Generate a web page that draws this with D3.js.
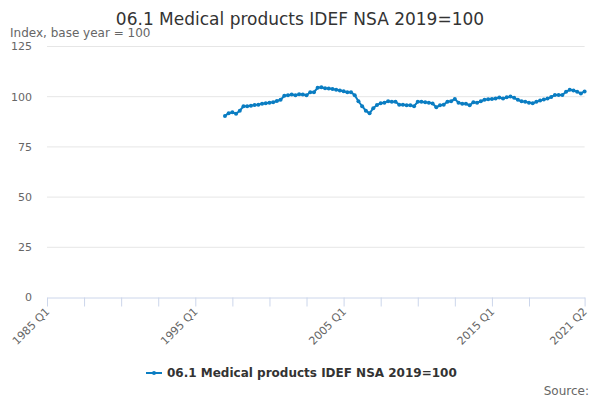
<!DOCTYPE html>
<html>
<head>
<meta charset="utf-8">
<script src="https://cdn.jsdelivr.net/npm/d3@7"></script>
<style>
  body { margin: 0; background: #fff; }
  svg { font-family: 'DejaVu Sans', sans-serif; display: block; }
</style>
</head>
<body>
<div class="container"></div>
<script>
// quarters counted from 1985 Q1 (index 0) to 2021 Q2 (index 145)
const firstQuarter = 48; // 1997 Q1
const values = [
  90.2, 91.5, 92, 91.2, 92.8, 95, 95, 95.3, 95.6, 95.8,
  96.2, 96.5, 96.8, 97, 97.6, 98.2, 100.2, 100.5, 100.8, 100.5,
  101, 100.8, 100.5, 102, 102, 104.2, 104.5, 104, 103.8, 103.6,
  103.2, 102.8, 102.5, 102, 102, 100.5, 97.5, 95, 92.8, 91.5,
  94, 95.6, 96.5, 96.8, 97.5, 97.2, 97.2, 95.8, 95.8, 95.5,
  95.5, 95, 97.2, 97.2, 97, 96.8, 96.4, 94.5, 95.5, 95.8,
  97.2, 97.5, 98.6, 96.8, 96.2, 96.2, 95.5, 97, 96.8, 97.5,
  98.2, 98.5, 98.6, 98.8, 99.4, 98.8, 99.5, 99.8, 99.2, 98.2,
  97.5, 97.2, 96.8, 96.5, 97.2, 97.8, 98.3, 98.8, 99.6, 100.6,
  100.6, 100.6, 102.2, 103.2, 102.8, 102.2, 101.4, 102.4
];
const xTickIndex = [0, 10, 20, 30, 40, 50, 60, 70, 80, 90, 100, 110, 120, 130, 145];
const xLabelIndex = [0, 40, 80, 120, 145];
const yTicks = [0, 25, 50, 75, 100, 125];

const title = '06.1 Medical products IDEF NSA 2019=100';

const quarterName = (i) => (1985 + Math.floor(i / 4)) + ' Q' + ((i % 4) + 1);

const w = 600;
const h = 400;
const plotLeft = 47;
const plotRight = 584.6;
const plotTop = 46;
const plotBottom = 297;

const svg = d3
  .select('.container')
  .append('svg')
  .attr('width', w)
  .attr('height', h);

svg
  .append('text')
  .attr('x', w / 2)
  .attr('y', 25)
  .attr('text-anchor', 'middle')
  .style('font-size', '17px')
  .style('fill', '#333')
  .text(title);

svg
  .append('text')
  .attr('x', 10)
  .attr('y', 37)
  .style('font-size', '12px')
  .style('fill', '#666')
  .text('Index, base year = 100');

const xScale = d3.scaleLinear().domain([0, 145]).range([plotLeft, plotRight]);
const yScale = d3.scaleLinear().domain([0, 125]).range([plotBottom, plotTop]);

// grid
svg
  .append('g')
  .selectAll('line')
  .data(yTicks.filter((d) => d > 0))
  .enter()
  .append('line')
  .attr('x1', plotLeft)
  .attr('x2', plotRight)
  .attr('y1', (d) => yScale(d) + 0.5)
  .attr('y2', (d) => yScale(d) + 0.5)
  .style('stroke', '#e6e6e6');

const yAxis = d3.axisLeft(yScale).tickValues(yTicks).tickSize(0).tickPadding(0);
const yG = svg
  .append('g')
  .attr('transform', 'translate(32,0)')
  .call(yAxis);
yG.select('.domain').remove();
yG.selectAll('text')
  .attr('dy', '0.35em')
  .style('font-size', '11px')
  .style('fill', '#666')
  .style('font-family', 'DejaVu Sans, sans-serif');

const xAxis = d3
  .axisBottom(xScale)
  .tickValues(xTickIndex)
  .tickSize(9)
  .tickSizeOuter(0)
  .tickFormat((d) => (xLabelIndex.includes(d) ? quarterName(d) : ''));
const xG = svg
  .append('g')
  .attr('transform', 'translate(0,' + (plotBottom + 0.5) + ')')
  .call(xAxis);
xG.select('.domain').style('stroke', '#ccd6eb');
xG.selectAll('.tick line').style('stroke', '#ccd6eb');
xG.selectAll('text')
  .style('font-size', '11px')
  .style('fill', '#666')
  .style('font-family', 'DejaVu Sans, sans-serif')
  .attr('text-anchor', 'end')
  .attr('dy', '0.35em')
  .attr('transform', 'translate(0,12) rotate(-45)')
  .attr('y', 0)
  .attr('x', 0);

const data = values.map((v, i) => [firstQuarter + i, v]);
const color = '#0a7dc2';

const line = d3
  .line()
  .x((d) => xScale(d[0]))
  .y((d) => yScale(d[1]));

svg
  .append('path')
  .datum(data)
  .attr('d', line)
  .style('fill', 'none')
  .style('stroke', color)
  .style('stroke-width', 2);

svg
  .append('g')
  .selectAll('circle')
  .data(data)
  .enter()
  .append('circle')
  .attr('cx', (d) => xScale(d[0]))
  .attr('cy', (d) => yScale(d[1]))
  .attr('r', 2)
  .style('fill', color);

// legend
const legend = svg.append('g').attr('transform', 'translate(146,373)');
legend
  .append('line')
  .attr('x1', 0)
  .attr('x2', 16)
  .attr('y1', 0)
  .attr('y2', 0)
  .style('stroke', color)
  .style('stroke-width', 2);
legend
  .append('circle')
  .attr('cx', 8)
  .attr('cy', 0)
  .attr('r', 2)
  .style('fill', color);
legend
  .append('text')
  .attr('x', 21)
  .attr('y', 0)
  .attr('dy', '0.35em')
  .style('font-size', '12px')
  .style('font-weight', 'bold')
  .style('fill', '#333')
  .text(title);

svg
  .append('text')
  .attr('x', 589)
  .attr('y', 395)
  .attr('text-anchor', 'end')
  .style('font-size', '12px')
  .style('fill', '#666')
  .text('Source:');
</script>
</body>
</html>
